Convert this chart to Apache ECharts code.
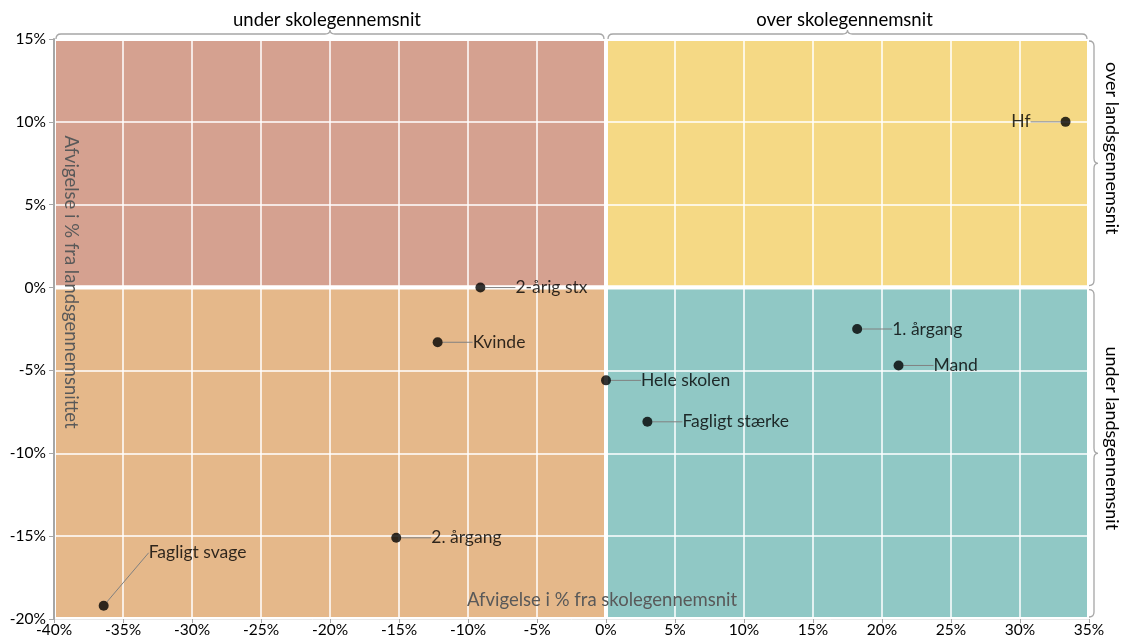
<!DOCTYPE html>
<html>
<head>
<meta charset="utf-8">
<script src="https://cdn.jsdelivr.net/npm/echarts@6/dist/echarts.min.js"></script>
<style>
html,body{margin:0;padding:0;background:#fff;}
#chart{width:1126px;height:642px;}
</style>
</head>
<body>
<div id="chart"></div>
<script>
// ---- data ----
const names   = ['Hf', '2-årig stx', 'Kvinde', 'Hele skolen', 'Fagligt stærke', '1. årgang', 'Mand', '2. årgang', 'Fagligt svage'];
const xValues = [33.3, -9.1, -12.2, 0.0, 3.0, 18.2, 21.2, -15.2, -36.4];
const yValues = [10.0, 0.0, -3.3, -5.6, -8.1, -2.5, -4.7, -15.1, -19.2];

const xTicks = { min: -40, max: 35, interval: 5 };
const yTicks = { min: -20, max: 15, interval: 5 };

const quadrants = [
  { x: [-40, 0], y: [0, 15] },
  { x: [0, 35],  y: [0, 15] },
  { x: [-40, 0], y: [-20, 0] },
  { x: [0, 35],  y: [-20, 0] }
];
const quadrantColors = ['#D5A190', '#F5D985', '#E5B88A', '#90C8C5'];

const braceTopLabels   = ['under skolegennemsnit', 'over skolegennemsnit'];
const braceTopRanges   = [[-40, 0], [0, 35]];
const braceRightLabels = ['over landsgennemsnit', 'under landsgennemsnit'];
const braceRightRanges = [[0, 15], [-20, 0]];

const xTitle = 'Afvigelse i % fra skolegennemsnit';
const yTitle = 'Afvigelse i % fra landsgennemsnittet';

// label placement (layout only)
const labelPlacement = {
  'Hf':            { pos: 'left',  dx: -26, dy: 0 },
  'Fagligt svage': { pos: 'right', dx: 36,  dy: -53 }
};
const defaultPlacement = { pos: 'right', dx: 26, dy: 0 };

const FONT = 'Lato, "Open Sans", sans-serif';

const chart = echarts.init(document.getElementById('chart'), null, { renderer: 'canvas' });

const points = names.map((n, i) => ({
  name: n,
  value: [xValues[i], yValues[i]],
  label: { position: (labelPlacement[n] || defaultPlacement).pos }
}));

function braceTop(params, api) {
  const r = braceTopRanges[params.dataIndex];
  const a = api.coord([r[0], yTicks.max]);
  const b = api.coord([r[1], yTicks.max]);
  const x0 = a[0] + 2, x1 = b[0] - 2, y0 = a[1], xm = (a[0] + b[0]) / 2;
  const h = 5;
  const d = `M${x0},${y0} Q${x0},${y0 - h} ${x0 + 5},${y0 - h} L${xm - 5},${y0 - h} Q${xm},${y0 - h} ${xm},${y0 - h - 4} Q${xm},${y0 - h} ${xm + 5},${y0 - h} L${x1 - 5},${y0 - h} Q${x1},${y0 - h} ${x1},${y0}`;
  return {
    type: 'group',
    children: [
      { type: 'path', shape: { pathData: d }, style: { fill: null, stroke: '#A6A6A6', lineWidth: 1.3 } },
      { type: 'text', x: xm - 3, y: y0 - 19,
        style: { text: braceTopLabels[params.dataIndex], align: 'center', verticalAlign: 'middle',
                 fontSize: 18.5, fontFamily: FONT, fill: '#000' } }
    ]
  };
}

function braceRight(params, api) {
  const r = braceRightRanges[params.dataIndex];
  const a = api.coord([xTicks.max, r[1]]);
  const b = api.coord([xTicks.max, r[0]]);
  const x0 = a[0], y0 = a[1] + 2, y1 = b[1] - 2, ym = (a[1] + b[1]) / 2;
  const w = 5;
  const d = `M${x0},${y0} Q${x0 + w},${y0} ${x0 + w},${y0 + 5} L${x0 + w},${ym - 5} Q${x0 + w},${ym} ${x0 + w + 4},${ym} Q${x0 + w},${ym} ${x0 + w},${ym + 5} L${x0 + w},${y1 - 5} Q${x0 + w},${y1} ${x0},${y1}`;
  return {
    type: 'group',
    children: [
      { type: 'path', shape: { pathData: d }, style: { fill: null, stroke: '#A6A6A6', lineWidth: 1.3 } },
      { type: 'text', x: x0 + 23, y: ym - 15, rotation: -Math.PI / 2,
        style: { text: braceRightLabels[params.dataIndex], align: 'center', verticalAlign: 'middle',
                 fontSize: 18, fontFamily: FONT, fill: '#000' } }
    ]
  };
}

const option = {
  animation: false,
  backgroundColor: '#ffffff',
  grid: { left: 54, right: 37, top: 39, bottom: 23, containLabel: false },
  xAxis: {
    type: 'value', min: xTicks.min, max: xTicks.max, interval: xTicks.interval, z: 3,
    axisLine: { show: true, onZero: false, lineStyle: { color: '#E8E8E8', width: 1 } },
    axisTick: { show: true, length: 4, lineStyle: { color: '#A6A6A6' } },
    axisLabel: { formatter: v => v + '%', fontSize: 15.5, fontFamily: FONT, color: '#000', margin: 3 },
    splitLine: { show: true, lineStyle: { color: '#FFFFFF', width: 1.5 } }
  },
  yAxis: {
    type: 'value', min: yTicks.min, max: yTicks.max, interval: yTicks.interval, z: 3,
    axisLine: { show: true, onZero: false, lineStyle: { color: '#A6A6A6', width: 2 } },
    axisTick: { show: true, length: 5, lineStyle: { color: '#A6A6A6' } },
    axisLabel: { formatter: v => v + '%', fontSize: 15.5, fontFamily: FONT, color: '#000', margin: 8 },
    splitLine: { show: true, lineStyle: { color: '#FFFFFF', width: 1.5 } }
  },
  graphic: [
    { type: 'text', x: 602, y: 600, z: 4,
      style: { text: xTitle, align: 'center', verticalAlign: 'middle', fontSize: 18.5, fontFamily: FONT, fill: '#595959' } },
    { type: 'text', x: 71, y: 282, rotation: -Math.PI / 2, z: 4,
      style: { text: yTitle, align: 'center', verticalAlign: 'middle', fontSize: 18.5, fontFamily: FONT, fill: '#595959' } }
  ],
  series: [
    {
      type: 'scatter', name: 'quadrants', data: [], z: 1, silent: true,
      markArea: {
        silent: true,
        data: quadrants.map((q, i) => [
          { coord: [q.x[0], q.y[0]], itemStyle: { color: quadrantColors[i], borderColor: '#FFFFFF', borderWidth: 4 } },
          { coord: [q.x[1], q.y[1]] }
        ])
      }
    },
    {
      type: 'custom', coordinateSystem: 'cartesian2d', renderItem: braceTop, clip: false, silent: true, z: 5,
      data: braceTopRanges.map(r => [r[0], yTicks.max])
    },
    {
      type: 'custom', coordinateSystem: 'cartesian2d', renderItem: braceRight, clip: false, silent: true, z: 5,
      data: braceRightRanges.map(r => [xTicks.max, r[0]])
    },
    {
      type: 'scatter', name: 'punkter', z: 10,
      symbol: 'circle', symbolSize: 10,
      itemStyle: { color: '#000000' },
      data: points,
      label: { show: true, formatter: '{b}', fontSize: 17.5, fontFamily: FONT, color: '#000', distance: 4 },
      labelLine: { show: true, lineStyle: { color: '#808080', width: 1 } },
      labelLayout: function (params) {
        const p = labelPlacement[names[params.dataIndex]] || defaultPlacement;
        return { dx: p.dx, dy: p.dy };
      }
    }
  ]
};

chart.setOption(option);
</script>
</body>
</html>
